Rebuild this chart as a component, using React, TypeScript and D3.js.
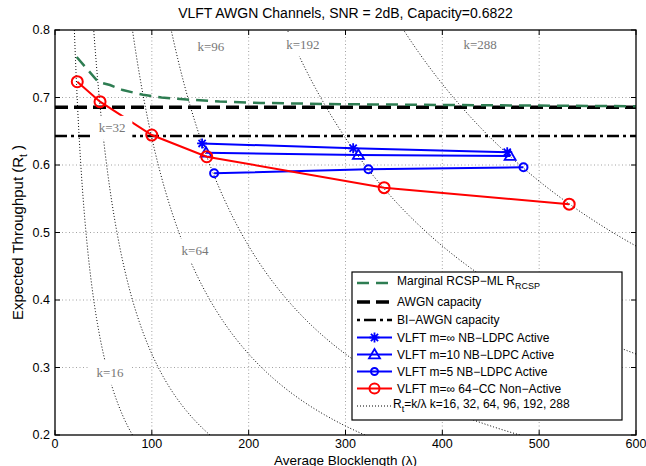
import React from 'react';
import * as d3 from 'd3';

const W = 646;
const H = 466;

// Axis ticks
const xTicks = [0, 100, 200, 300, 400, 500, 600];
const yTicks = [0.2, 0.3, 0.4, 0.5, 0.6, 0.7, 0.8];

// Reference capacity levels
const awgnCapacity = 0.6856;
const biAwgnCapacity = 0.643;

// Marginal RCSP-ML
const rcspLambda = [22.4, 44.7, 56.8, 70, 90.9, 110, 136, 170, 212, 300, 400, 500, 600];
const rcspRate = [0.76, 0.723, 0.7185, 0.711, 0.704, 0.7, 0.697, 0.694, 0.692, 0.69, 0.689, 0.688, 0.687];

// VLFT m=inf NB-LDPC Active
const mInfLambda = [151.9, 307.9, 467];
const mInfRate = [0.632, 0.6247, 0.619];

// VLFT m=10 NB-LDPC Active
const m10Lambda = [156, 313.3, 470];
const m10Rate = [0.6182, 0.6148, 0.6133];

// VLFT m=5 NB-LDPC Active
const m5Lambda = [164.3, 323.7, 483.8];
const m5Rate = [0.5877, 0.5936, 0.5966];

// VLFT m=inf 64-CC Non-Active
const ccLambda = [23.0, 46.5, 99.9, 156.7, 339.9, 531];
const ccRate = [0.7234, 0.6938, 0.6444, 0.6123, 0.5664, 0.542];

// Rt = k / lambda reference curves
const kValues = [16, 32, 64, 96, 192, 288];
const kLabelText = ['k=96', 'k=192', 'k=288', 'k=32', 'k=64', 'k=16'];
const kLabelLambda = [161, 256, 439, 59, 144.6, 56.8];
const kLabelRate = [0.776, 0.7785, 0.778, 0.655, 0.4726, 0.292];

const SANS = 'Liberation Sans, Arial, Helvetica, sans-serif';
const SERIF = 'Liberation Serif, Times New Roman, serif';

const x = d3.scaleLinear().domain([0, 600]).range([55, 636]);
const y = d3.scaleLinear().domain([0.2, 0.8]).range([435, 30]);

const line = d3
  .line<[number, number]>()
  .x((d) => x(d[0]))
  .y((d) => y(d[1]));

const zip = (a: number[], b: number[]) => a.map((v, i) => [v, b[i]] as [number, number]);

function hyperbola(k: number): [number, number][] {
  const rMin = Math.max(0.2, k / 600);
  const n = 200;
  return d3.range(n + 1).map((i) => {
    const r = rMin + ((0.8 - rMin) * i) / n;
    return [k / r, r] as [number, number];
  });
}

function Asterisk({ cx, cy, s = 5, color }: { cx: number; cy: number; s?: number; color: string }) {
  const d = s * 0.72;
  return (
    <path
      d={`M${cx - s},${cy}L${cx + s},${cy}M${cx},${cy - s}L${cx},${cy + s}M${cx - d},${cy - d}L${cx + d},${cy + d}M${cx - d},${cy + d}L${cx + d},${cy - d}`}
      stroke={color}
      strokeWidth={1.8}
      fill="none"
    />
  );
}

function Triangle({ cx, cy, s = 5.5, color }: { cx: number; cy: number; s?: number; color: string }) {
  return (
    <path
      d={`M${cx},${cy - s}L${cx + s},${cy + s * 0.7}L${cx - s},${cy + s * 0.7}Z`}
      stroke={color}
      strokeWidth={1.8}
      fill="none"
    />
  );
}

function Circle({ cx, cy, r, color }: { cx: number; cy: number; r: number; color: string }) {
  return <circle cx={cx} cy={cy} r={r} stroke={color} strokeWidth={2} fill="none" />;
}

const BLUE = '#0000ff';
const RED = '#ff0000';
const GREEN = '#2e7d52';

export default function App() {
  const left = x(0);
  const right = x(600);
  const top = y(0.8);
  const bottom = y(0.2);

  const legendX = 352;
  const legendY = 272;
  const legendW = 270;
  const legendH = 148;
  const rows = [283, 302, 320, 337.5, 354.5, 371.5, 388.5, 406];
  const lx1 = 357;
  const lx2 = 392;
  const lmid = (lx1 + lx2) / 2;
  const tx = 397;

  return (
    <svg
      width={W}
      height={H}
      style={{ position: 'absolute', left: 0, top: 0, background: '#fff' }}
      fontFamily={SANS}
    >
      <defs>
        <clipPath id="plot">
          <rect x={left} y={top} width={right - left} height={bottom - top} />
        </clipPath>
      </defs>
      <rect x={0} y={0} width={W} height={H} fill="#fff" />

      {/* title */}
      <text x={(left + right) / 2} y={18} textAnchor="middle" fontSize={14}>
        VLFT AWGN Channels, SNR = 2dB, Capacity=0.6822
      </text>

      {/* grid */}
      <g stroke="#8a8a8a" strokeWidth={0.8} strokeDasharray="1,2.5">
        {xTicks.slice(1, -1).map((t) => (
          <line key={'gx' + t} x1={x(t)} x2={x(t)} y1={top} y2={bottom} />
        ))}
        {yTicks.slice(1, -1).map((t) => (
          <line key={'gy' + t} x1={left} x2={right} y1={y(t)} y2={y(t)} />
        ))}
      </g>

      <g clipPath="url(#plot)">
        {/* hyperbolas */}
        {kValues.map((k) => (
          <path
            key={'k' + k}
            d={line(hyperbola(k)) || ''}
            fill="none"
            stroke="#000"
            strokeWidth={1}
            strokeDasharray="1,2"
          />
        ))}

        {/* capacity lines */}
        <line
          x1={left}
          x2={right}
          y1={y(awgnCapacity)}
          y2={y(awgnCapacity)}
          stroke="#000"
          strokeWidth={3.5}
          strokeDasharray="13,6"
        />
        <line
          x1={left}
          x2={right}
          y1={y(biAwgnCapacity)}
          y2={y(biAwgnCapacity)}
          stroke="#000"
          strokeWidth={2.5}
          strokeDasharray="12,4,3,4"
        />

        {/* RCSP */}
        <path
          d={line(zip(rcspLambda, rcspRate)) || ''}
          fill="none"
          stroke={GREEN}
          strokeWidth={2.5}
          strokeDasharray="12,7"
        />

        {/* Blue series */}
        <path d={line(zip(mInfLambda, mInfRate)) || ''} fill="none" stroke={BLUE} strokeWidth={2} />
        {mInfLambda.map((l, i) => (
          <Asterisk key={'a' + i} cx={x(l)} cy={y(mInfRate[i])} color={BLUE} />
        ))}
        <path d={line(zip(m10Lambda, m10Rate)) || ''} fill="none" stroke={BLUE} strokeWidth={2} />
        {m10Lambda.map((l, i) => (
          <Triangle key={'t' + i} cx={x(l)} cy={y(m10Rate[i])} color={BLUE} />
        ))}
        <path d={line(zip(m5Lambda, m5Rate)) || ''} fill="none" stroke={BLUE} strokeWidth={2} />
        {m5Lambda.map((l, i) => (
          <Circle key={'c' + i} cx={x(l)} cy={y(m5Rate[i])} r={4} color={BLUE} />
        ))}

        {/* Red series */}
        <path d={line(zip(ccLambda, ccRate)) || ''} fill="none" stroke={RED} strokeWidth={2} />
        {ccLambda.map((l, i) => (
          <Circle key={'r' + i} cx={x(l)} cy={y(ccRate[i])} r={5.5} color={RED} />
        ))}

        {/* k labels */}
        {kLabelText.map((t, i) => {
          const cx = x(kLabelLambda[i]);
          const cy = y(kLabelRate[i]);
          const w = t.length * 6.6 + 14;
          return (
            <g key={'kl' + i}>
              <rect x={cx - w / 2} y={cy - 12} width={w} height={24} fill="#fff" />
              <text
                x={cx}
                y={cy + 4.5}
                textAnchor="middle"
                fontSize={13}
                fontFamily={SERIF}
                fill="#777"
              >
                {t}
              </text>
            </g>
          );
        })}
      </g>

      {/* axes box */}
      <rect x={left} y={top} width={right - left} height={bottom - top} fill="none" stroke="#000" strokeWidth={1.3} />

      {/* ticks */}
      <g stroke="#000" strokeWidth={1}>
        {xTicks.map((t) => (
          <g key={'tx' + t}>
            <line x1={x(t)} x2={x(t)} y1={bottom} y2={bottom - 5} />
            <line x1={x(t)} x2={x(t)} y1={top} y2={top + 5} />
          </g>
        ))}
        {yTicks.map((t) => (
          <g key={'ty' + t}>
            <line x1={left} x2={left + 5} y1={y(t)} y2={y(t)} />
            <line x1={right} x2={right - 5} y1={y(t)} y2={y(t)} />
          </g>
        ))}
      </g>

      {/* tick labels */}
      <g fontSize={12.5} fill="#000">
        {xTicks.map((t) => (
          <text key={'lx' + t} x={x(t)} y={bottom + 13} textAnchor="middle">
            {t}
          </text>
        ))}
        {yTicks.map((t) => (
          <text key={'ly' + t} x={left - 5} y={y(t) + 4} textAnchor="end">
            {t.toFixed(1)}
          </text>
        ))}
      </g>

      {/* axis labels */}
      <text x={(left + right) / 2} y={464.5} textAnchor="middle" fontSize={13.5}>
        Average Blocklength (λ)
      </text>
      <text transform={`translate(23,${(top + bottom) / 2}) rotate(-90)`} textAnchor="middle" fontSize={15}>
        Expected Throughput (R
        <tspan dy={4} fontSize={10}>
          t
        </tspan>
        <tspan dy={-4}> )</tspan>
      </text>

      {/* legend */}
      <rect x={legendX} y={legendY} width={legendW} height={legendH} fill="#fff" stroke="#000" strokeWidth={1.2} />
      <g fontSize={12}>
        <line x1={lx1} x2={lx2} y1={rows[0]} y2={rows[0]} stroke={GREEN} strokeWidth={2.5} strokeDasharray="12,7" />
        <text x={tx} y={rows[0] + 2}>
          Marginal RCSP−ML R
          <tspan dy={4} fontSize={9}>
            RCSP
          </tspan>
        </text>

        <line x1={lx1} x2={lx2} y1={rows[1]} y2={rows[1]} stroke="#000" strokeWidth={3.5} strokeDasharray="13,6" />
        <text x={tx} y={rows[1] + 4}>AWGN capacity</text>

        <line x1={lx1} x2={lx2} y1={rows[2]} y2={rows[2]} stroke="#000" strokeWidth={2.5} strokeDasharray="3,4,12,4" />
        <text x={tx} y={rows[2] + 4}>BI−AWGN capacity</text>

        <line x1={lx1} x2={lx2} y1={rows[3]} y2={rows[3]} stroke={BLUE} strokeWidth={2} />
        <Asterisk cx={lmid} cy={rows[3]} color={BLUE} />
        <text x={tx} y={rows[3] + 4}>VLFT m=∞ NB−LDPC Active</text>

        <line x1={lx1} x2={lx2} y1={rows[4]} y2={rows[4]} stroke={BLUE} strokeWidth={2} />
        <Triangle cx={lmid} cy={rows[4]} color={BLUE} />
        <text x={tx} y={rows[4] + 4}>VLFT m=10 NB−LDPC Active</text>

        <line x1={lx1} x2={lx2} y1={rows[5]} y2={rows[5]} stroke={BLUE} strokeWidth={2} />
        <Circle cx={lmid} cy={rows[5]} r={3.5} color={BLUE} />
        <text x={tx} y={rows[5] + 4}>VLFT m=5 NB−LDPC Active</text>

        <line x1={lx1} x2={lx2} y1={rows[6]} y2={rows[6]} stroke={RED} strokeWidth={2} />
        <Circle cx={lmid} cy={rows[6]} r={5} color={RED} />
        <text x={tx} y={rows[6] + 4}>VLFT m=∞ 64−CC Non−Active</text>

        <line x1={lx1} x2={lx2} y1={rows[7]} y2={rows[7]} stroke="#000" strokeWidth={1} strokeDasharray="1,2" />
        <text x={tx - 4} y={rows[7] + 2}>
          R
          <tspan dy={4} fontSize={9}>
            t
          </tspan>
          <tspan dy={-4}>=k/λ k=16, 32, 64, 96, 192, 288</tspan>
        </text>
      </g>
    </svg>
  );
}
